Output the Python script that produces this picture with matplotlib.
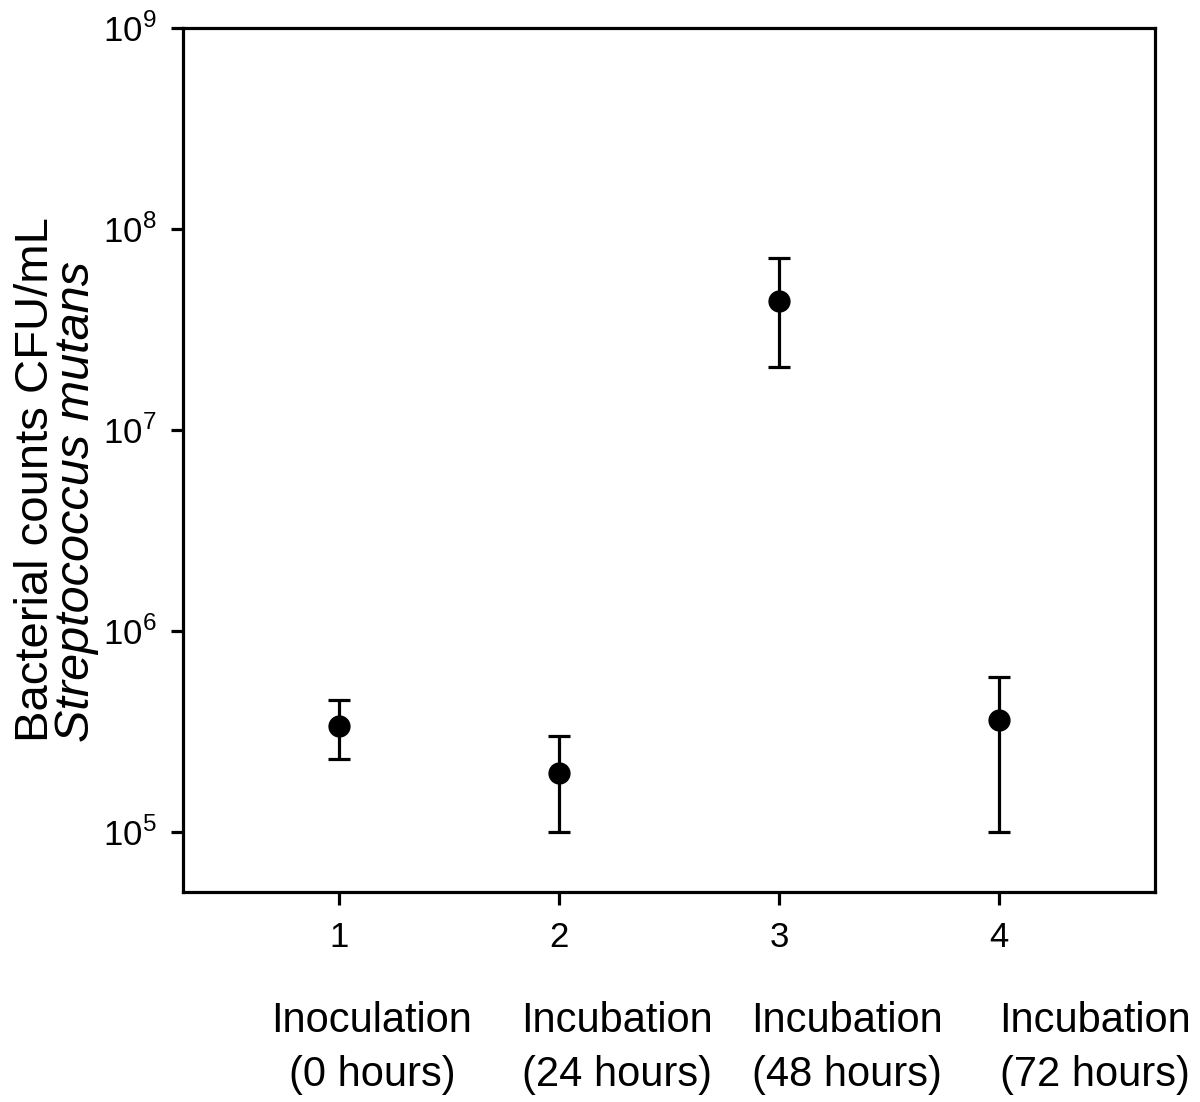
import numpy as np
import matplotlib.pyplot as plt
from matplotlib.ticker import FixedLocator, FuncFormatter, NullLocator

# data
stage = [1, 2, 3, 4]
counts = [3.35e5, 1.96e5, 4.4e7, 3.6e5]
err_hi = [4.5e5, 3.0e5, 7.2e7, 5.9e5]
err_lo = [2.3e5, 1.0e5, 2.05e7, 1.0e5]
stage_names = ["Inoculation\n(0 hours)", "Incubation\n(24 hours)",
               "Incubation\n(48 hours)", "Incubation\n(72 hours)"]

plt.rcParams['font.family'] = ["Liberation Sans Narrow", "Liberation Sans", "DejaVu Sans"]
plt.rcParams['mathtext.fontset'] = 'custom'
plt.rcParams['mathtext.rm'] = 'Liberation Sans'

W, H = 1200, 1102
fig = plt.figure(figsize=(W / 100, H / 100), dpi=100)
ax = fig.add_axes([183 / W, 1 - 892 / H, (1155 - 183) / W, (892 - 28) / H])

c = np.array(counts)
yerr = [c - np.array(err_lo), np.array(err_hi) - c]
ax.errorbar(stage, counts, yerr=yerr, fmt='o', color='black', ms=15,
            elinewidth=2.3, capsize=8, capthick=2.3)

ax.set_yscale('log')
ax.set_ylim(10 ** 4.7, 1e9)
ax.set_xlim(0.29, 4.71)
ax.yaxis.set_major_locator(FixedLocator([1e5, 1e6, 1e7, 1e8, 1e9]))
ax.yaxis.set_minor_locator(NullLocator())
ax.yaxis.set_major_formatter(FuncFormatter(lambda v, p: r"10$^{%d}$" % round(np.log10(v))))
ax.set_xticks(stage)
ax.set_xticklabels([str(s) for s in stage])

for s in ax.spines.values():
    s.set_linewidth(2.3)
ax.tick_params(direction='out', length=9, width=2.3, labelsize=25)
ax.tick_params(axis='x', pad=12)
ax.tick_params(axis='y', pad=10)

# category captions below the numbered ticks
label_x = [372, 617, 847, 1095]
for name, xp in zip(stage_names, label_x):
    fig.text(xp / W, 1 - 1095 / H, name, ha='center', va='bottom',
             fontsize=30, linespacing=1.45)

fig.text(14 / W, 1 - 742 / H, "Bacterial counts CFU/mL", rotation=90,
         ha='left', va='bottom', fontsize=34, family=["Liberation Sans", "DejaVu Sans"])
fig.text(54 / W, 1 - 742 / H, "Streptococcus mutans", rotation=90, style='italic',
         ha='left', va='bottom', fontsize=35, family=["Liberation Sans", "DejaVu Sans"])

fig.savefig("out.png", dpi=100)
